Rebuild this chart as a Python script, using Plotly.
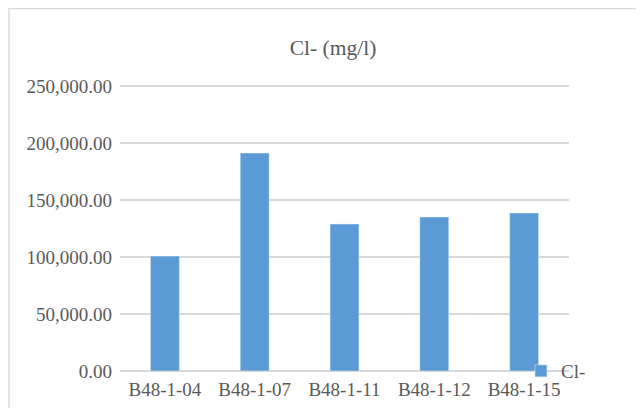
import plotly.graph_objects as go

samples = ['B48-1-04', 'B48-1-07', 'B48-1-11', 'B48-1-12', 'B48-1-15']
chloride = [100800, 191200, 128900, 135100, 138600]

text_color = '#595959'
grid_color = '#d9d9d9'
font_name = 'Liberation Serif'

fig = go.Figure()
fig.add_trace(go.Bar(x=samples, y=chloride, name='Cl-', marker_color='#5b9bd5'))

# page body has an 8px margin, so the figure is 636x400 and placed at (8, 8)
fig.update_layout(
    width=636, height=400,
    margin=dict(l=112, r=75, t=76, b=37),
    paper_bgcolor='white', plot_bgcolor='white',
    font=dict(family=font_name, size=19, color=text_color),
    title=dict(text='Cl- (mg/l)', x=325 / 636, xanchor='center',
               y=1 - 39 / 400, yanchor='middle',
               font=dict(family=font_name, size=21.5, color=text_color)),
    bargap=0.678,
    showlegend=True,
    legend=dict(x=0.893, xanchor='left', y=0.0, yanchor='middle',
                bgcolor='rgba(0,0,0,0)', font=dict(size=19, color=text_color)),
)
# a little headroom so plotly keeps the 250,000 gridline
fig.update_yaxes(range=[0, 251800], dtick=50000, tickformat=',.2f',
                 showgrid=True, gridcolor=grid_color, gridwidth=2,
                 zeroline=True, zerolinecolor=grid_color, zerolinewidth=2,
                 showline=False, ticks='', ticklabelstandoff=7, automargin=False)
fig.update_xaxes(showgrid=False, showline=False, ticks='', ticklabelstandoff=5,
                 automargin=False)

# outer chart border, partly cut by the window like in the reference
fig.add_shape(type='rect', xref='paper', yref='paper',
              x0=(9 - 120) / 449, x1=1.4, y0=-0.3, y1=362.5 / 287,
              line=dict(color=grid_color, width=1.5), layer='below')

fig.write_html('out.html')
